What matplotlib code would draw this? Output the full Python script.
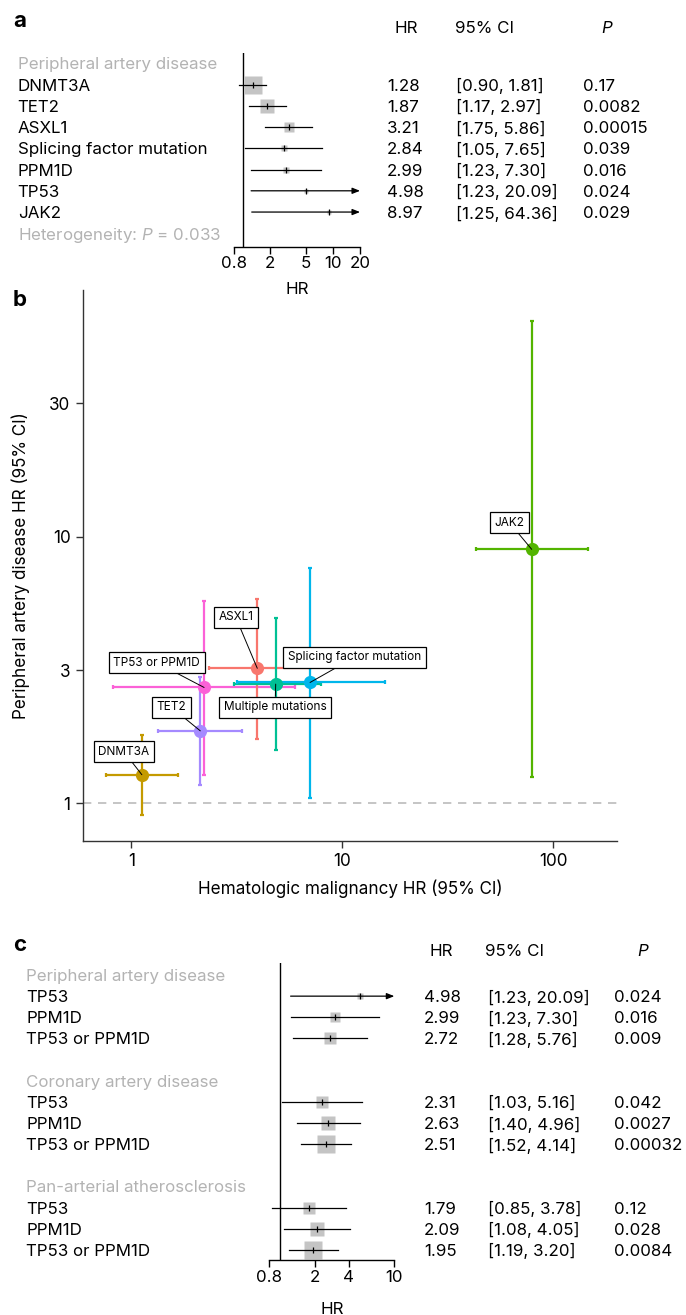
import matplotlib
matplotlib.use('Agg')
import matplotlib.pyplot as plt
import numpy as np
from matplotlib.transforms import blended_transform_factory as btf
from matplotlib.ticker import NullLocator, FixedLocator, FixedFormatter

# ---------------- data ----------------
# panel a
labels_a = ["DNMT3A", "TET2", "ASXL1", "Splicing factor mutation", "PPM1D", "TP53", "JAK2"]
hr_a = [1.28, 1.87, 3.21, 2.84, 2.99, 4.98, 8.97]
lo_a = [0.90, 1.17, 1.75, 1.05, 1.23, 1.23, 1.25]
hi_a = [1.81, 2.97, 5.86, 7.65, 7.30, 20.09, 64.36]
p_a = ["0.17", "0.0082", "0.00015", "0.039", "0.016", "0.024", "0.029"]
ticks_a = [0.8, 2, 5, 10, 20]
ticklabels_a = ["0.8", "2", "5", "10", "20"]

# panel b
names_b = ["DNMT3A", "TET2", "TP53 or PPM1D", "ASXL1", "Multiple mutations",
           "Splicing factor mutation", "JAK2"]
x_hr = [1.12, 2.12, 2.21, 3.95, 4.83, 7.03, 79.1]
x_lo = [0.76, 1.34, 0.82, 2.32, 3.07, 3.16, 42.9]
x_hi = [1.66, 3.36, 5.97, 7.0, 7.9, 15.9, 145.8]
y_hr = [1.28, 1.87, 2.72, 3.21, 2.80, 2.84, 8.97]
y_lo = [0.90, 1.17, 1.28, 1.75, 1.59, 1.05, 1.25]
y_hi = [1.81, 2.97, 5.76, 5.86, 4.95, 7.65, 64.36]
colors_b = ["#C49A00", "#A58AFF", "#FB61D7", "#F8766D", "#00C094", "#00B6EB", "#53B400"]
xticks_b = [1, 10, 100]
xticklabels_b = ["1", "10", "100"]
yticks_b = [1, 10 ** 0.5, 10, 10 ** 1.5]
yticklabels_b = ["1", "3", "10", "30"]

# panel c
groups_c = ["Peripheral artery disease", "Coronary artery disease", "Pan-arterial atherosclerosis"]
genes_c = ["TP53", "PPM1D", "TP53 or PPM1D"]
hr_c = [4.98, 2.99, 2.72, 2.31, 2.63, 2.51, 1.79, 2.09, 1.95]
lo_c = [1.23, 1.23, 1.28, 1.03, 1.40, 1.52, 0.85, 1.08, 1.19]
hi_c = [20.09, 7.30, 5.76, 5.16, 4.96, 4.14, 3.78, 4.05, 3.20]
p_c = ["0.024", "0.016", "0.009", "0.042", "0.0027", "0.00032", "0.12", "0.028", "0.0084"]
ticks_c = [0.8, 2, 4, 10]
ticklabels_c = ["0.8", "2", "4", "10"]

# ---------------- style ----------------
FONT = 'Inter'
plt.rcParams['font.family'] = [FONT, 'DejaVu Sans']
plt.rcParams['mathtext.fontset'] = 'custom'
plt.rcParams['mathtext.rm'] = FONT
plt.rcParams['mathtext.it'] = FONT + ':italic'
FS = 12.2
FSB = 12.3
GREY = '#b3b3b3'
BOX = '#c4c4c4'

W, H = 686, 1315
fig = plt.figure(figsize=(W / 100, H / 100), dpi=100)


def axrect(x0, y0, x1, y1):
    return [x0 / W, 1 - y1 / H, (x1 - x0) / W, (y1 - y0) / H]


def fx(px):
    return px / W


def fy(py):
    return 1 - py / H


def forest(ax, ys, hr, lo, hi, xlim, ylim, ticks, ticklabels, k_box):
    ax.set_xscale('log')
    ax.set_xlim(xlim)
    ax.set_ylim(ylim)
    for s in ['top', 'right', 'left']:
        ax.spines[s].set_visible(False)
    ax.spines['bottom'].set_linewidth(1.0)
    ax.axvline(1, color='black', lw=1.0, zorder=1)
    ax.xaxis.set_major_locator(FixedLocator(ticks))
    ax.xaxis.set_major_formatter(FixedFormatter(ticklabels))
    ax.xaxis.set_minor_locator(NullLocator())
    ax.set_yticks([])
    ax.tick_params(axis='x', length=5, width=1.0, pad=2, labelsize=FS)
    ax.patch.set_alpha(0)
    for y, h, l, u in zip(ys, hr, lo, hi):
        se = (np.log(u) - np.log(l)) / (2 * 1.96)
        side = k_box / se * 0.72
        ax.plot(h, y, marker='s', ms=side, color=BOX, mec='none', zorder=2)
        if u > xlim[1]:
            ax.annotate('', xy=(xlim[1], y), xytext=(l, y),
                        arrowprops=dict(arrowstyle='-|>,head_length=0.45,head_width=0.18',
                                        color='black', lw=0.9, shrinkA=0, shrinkB=0),
                        annotation_clip=False, zorder=3)
        else:
            ax.plot([l, u], [y, y], color='black', lw=0.9, zorder=3)
        ax.plot(h, y, marker='|', ms=5, mew=0.9, color='black', zorder=4)


# ---------------- panel a ----------------
row0_a, step_a = 63.3, 21.25
axa = fig.add_axes(axrect(234.3, 53.3, 360, 246.7))
ylim_a = ((246.7 - row0_a) / step_a, (53.3 - row0_a) / step_a)
ys_a = list(range(1, len(labels_a) + 1))
forest(axa, ys_a, hr_a, lo_a, hi_a, (0.8, 20), ylim_a, ticks_a, ticklabels_a, 3.15)
ta = btf(fig.transFigure, axa.transData)
hy_a = (27 - row0_a) / step_a
axa.text(fx(17.7), 0, "Peripheral artery disease", transform=ta, color=GREY,
         fontsize=FS, va='center_baseline')
for y, lab, h, l, u, p in zip(ys_a, labels_a, hr_a, lo_a, hi_a, p_a):
    axa.text(fx(17.7), y, lab, transform=ta, fontsize=FS, va='center_baseline')
    axa.text(fx(387), y, f"{h:.2f}", transform=ta, fontsize=FS, va='center_baseline')
    axa.text(fx(456), y, f"[{l:.2f}, {u:.2f}]", transform=ta, fontsize=FS, va='center_baseline')
    axa.text(fx(583), y, p, transform=ta, fontsize=FS, va='center_baseline')
axa.text(fx(17.7), len(labels_a) + 1, "Heterogeneity: $P$ = 0.033", transform=ta,
         color=GREY, fontsize=FS, va='center_baseline')
axa.text(fx(406), hy_a, "HR", transform=ta, fontsize=FS, ha='center', va='center_baseline')
axa.text(fx(455), hy_a, "95% CI", transform=ta, fontsize=FS, va='center_baseline')
axa.text(fx(607), hy_a, "P", transform=ta, fontsize=FS, ha='center', va='center_baseline',
         style='italic')
fig.text(fx(297), fy(288), "HR", fontsize=FS, ha='center', va='center_baseline')

# ---------------- panel b ----------------
axb = fig.add_axes(axrect(83, 290, 617, 841))
axb.set_xscale('log')
axb.set_yscale('log')
axb.set_xlim(0.589, 200.7)
axb.set_ylim(0.722, 84.3)
for s in ['top', 'right']:
    axb.spines[s].set_visible(False)
for s in ['left', 'bottom']:
    axb.spines[s].set_linewidth(1.0)
    axb.spines[s].set_color('#333333')
axb.xaxis.set_major_locator(FixedLocator(xticks_b))
axb.xaxis.set_major_formatter(FixedFormatter(xticklabels_b))
axb.yaxis.set_major_locator(FixedLocator(yticks_b))
axb.yaxis.set_major_formatter(FixedFormatter(yticklabels_b))
axb.xaxis.set_minor_locator(NullLocator())
axb.yaxis.set_minor_locator(NullLocator())
axb.tick_params(length=5, width=1.0, color='#333333', labelsize=FSB, pad=4)
axb.axhline(1, color='#bbbbbb', lw=1.2, ls=(0, (5, 4)), zorder=0)
for i in range(len(names_b)):
    axb.errorbar([x_hr[i]], [y_hr[i]],
                 xerr=[[x_hr[i] - x_lo[i]], [x_hi[i] - x_hr[i]]],
                 yerr=[[y_hr[i] - y_lo[i]], [y_hi[i] - y_hr[i]]],
                 fmt='none', ecolor=colors_b[i], elinewidth=1.6, capsize=1.5,
                 capthick=1.6, zorder=2)
for i in range(len(names_b)):
    axb.plot(x_hr[i], y_hr[i], 'o', ms=9.5, color=colors_b[i], mec='none', zorder=3)
axb.set_xlabel("Hematologic malignancy HR (95% CI)", fontsize=FSB)
axb.set_ylabel("Peripheral artery disease HR (95% CI)", fontsize=FSB)
axb.xaxis.set_label_coords(0.5, -(880 - 841) / 551)
axb.yaxis.set_label_coords(-(83 - 30) / 534, 0.5)

# label box positions (data coords of box centres)
label_pos = {
    "DNMT3A": (0.92, 1.562),
    "TET2": (1.544, 2.294),
    "TP53 or PPM1D": (1.318, 3.37),
    "ASXL1": (3.126, 4.98),
    "Multiple mutations": (4.80, 2.294),
    "Splicing factor mutation": (11.42, 3.53),
    "JAK2": (62.1, 11.28),
}
for i, nm in enumerate(names_b):
    axb.annotate(nm, xy=(x_hr[i], y_hr[i]), xytext=label_pos[nm], textcoords='data',
                 fontsize=FSB * 0.69, ha='center', va='center',
                 bbox=dict(boxstyle='square,pad=0.38', fc='white', ec='black', lw=0.9),
                 arrowprops=dict(arrowstyle='-', color='black', lw=0.7,
                                 shrinkA=0, shrinkB=0),
                 zorder=5)

# ---------------- panel c ----------------
row0_c, step_c = 975.0, 21.15
axc = fig.add_axes(axrect(269.3, 963, 394.3, 1260))
ylim_c = ((1260 - row0_c) / step_c, (963 - row0_c) / step_c)
ys_c = []
head_rows = []
for g in range(len(groups_c)):
    base = g * 5
    head_rows.append(base)
    for j in range(len(genes_c)):
        ys_c.append(base + 1 + j)
forest(axc, ys_c, hr_c, lo_c, hi_c, (0.8, 10), ylim_c, ticks_c, ticklabels_c, 4.55)
tc = btf(fig.transFigure, axc.transData)
for g, hrow in enumerate(head_rows):
    axc.text(fx(26), hrow, groups_c[g], transform=tc, color=GREY, fontsize=FS,
             va='center_baseline')
for k, y in enumerate(ys_c):
    axc.text(fx(26), y, genes_c[k % 3], transform=tc, fontsize=FS, va='center_baseline')
    axc.text(fx(424), y, f"{hr_c[k]:.2f}", transform=tc, fontsize=FS, va='center_baseline')
    axc.text(fx(488), y, f"[{lo_c[k]:.2f}, {hi_c[k]:.2f}]", transform=tc, fontsize=FS,
             va='center_baseline')
    axc.text(fx(614), y, p_c[k], transform=tc, fontsize=FS, va='center_baseline')
hy_c = (950 - row0_c) / step_c
axc.text(fx(441), hy_c, "HR", transform=tc, fontsize=FS, ha='center', va='center_baseline')
axc.text(fx(485), hy_c, "95% CI", transform=tc, fontsize=FS, va='center_baseline')
axc.text(fx(643), hy_c, "P", transform=tc, fontsize=FS, ha='center', va='center_baseline',
         style='italic')
fig.text(fx(332), fy(1308), "HR", fontsize=FS, ha='center', va='center_baseline')

# ---------------- panel letters ----------------
for lab, px, py in [("a", 13, 19), ("b", 13, 298), ("c", 13, 943)]:
    fig.text(fx(px), fy(py), lab, fontsize=16, fontweight='bold', va='center_baseline')

fig.savefig('out.png', dpi=100)
